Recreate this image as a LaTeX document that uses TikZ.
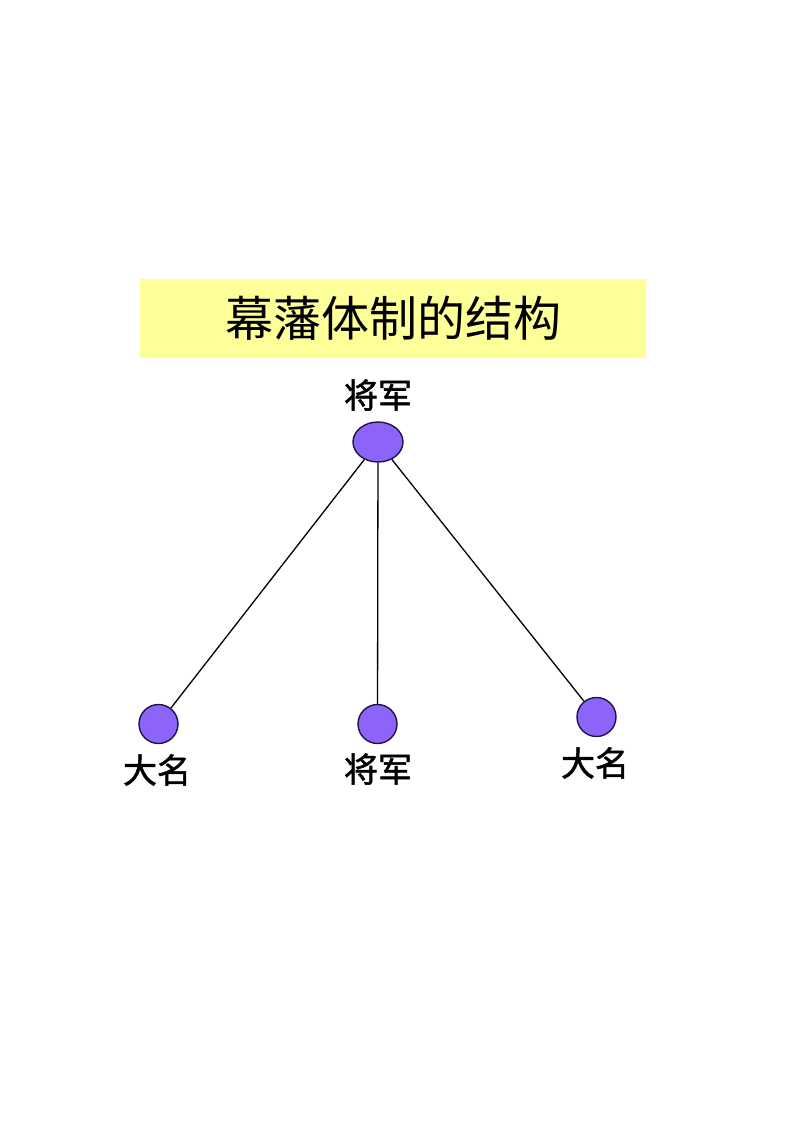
\documentclass[tikz,border=0pt]{standalone}
\usepackage{fontspec}
\newfontfamily\cjk{Noto Sans CJK SC}
\newfontfamily\cjkb{Noto Sans CJK SC}[FakeBold=1.5]
\definecolor{titlebg}{RGB}{255,255,153}
\definecolor{nodefill}{RGB}{140,100,250}
\definecolor{nodeline}{RGB}{30,20,70}
\tikzset{
  x=1pt, y=-1pt,
  bignode/.style={ellipse, draw=nodeline, fill=nodefill, line width=1.4pt, minimum width=50pt, minimum height=40pt, inner sep=0pt},
  smallnode/.style={circle, draw=nodeline, fill=nodefill, line width=1.4pt, minimum size=39pt, inner sep=0pt},
  label text/.style={font=\cjkb\fontsize{34}{34}\selectfont, inner sep=0pt},
  link/.style={draw=black, line width=1.3pt}
}
\usetikzlibrary{shapes.geometric}
\begin{document}
\begin{tikzpicture}
\useasboundingbox (0,0) rectangle (794,1122);
\node[fill=titlebg, minimum width=506pt, minimum height=79pt, inner sep=0pt, font=\cjk\fontsize{48}{48}\selectfont] (title) at (393,318.5) {幕藩体制的结构};
\node[label text] (ltop) at (378,395) {将军};
\node[bignode] (top) at (378,442) {};
\node[smallnode] (left) at (158.5,724) {};
\node[smallnode] (mid) at (377.5,724) {};
\node[smallnode] (right) at (596.5,717) {};
\node[label text] (lleft) at (157,770) {大名};
\node[label text] (lmid) at (378,769) {将军};
\node[label text] (lright) at (595,763) {大名};
\draw[link] (top) -- (left);
\draw[link] (top) -- (mid);
\draw[link] (top) -- (right);
\end{tikzpicture}
\end{document}
